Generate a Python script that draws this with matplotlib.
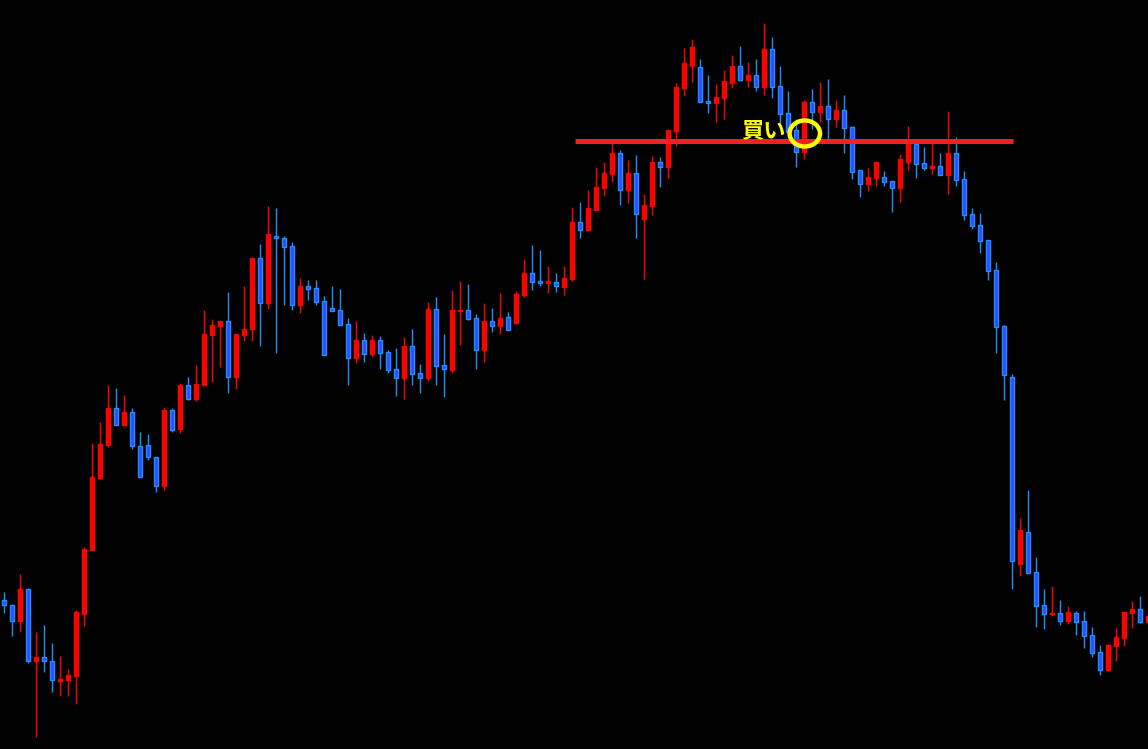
import matplotlib.pyplot as plt
from matplotlib.patches import Ellipse

plt.rcParams['font.family'] = ['Noto Sans CJK JP', 'DejaVu Sans']

# prices, in screen units (bigger number = lower price)
opens = [600, 605, 621, 589, 661, 657, 661, 681, 680, 676,
         614, 550, 478, 445, 408, 425, 412, 446, 445, 457,
         486, 410, 429, 385, 399, 385, 335, 326, 321, 377,
         335, 329, 258, 303, 236, 238, 246, 305, 286, 288,
         301, 308, 310, 324, 358, 340, 354, 340, 352, 369,
         378, 346, 373, 378, 309, 365, 370, 311, 310, 318,
         350, 321, 326, 317, 323, 295, 273, 281, 283, 282,
         287, 279, 222, 230, 210, 188, 174, 153, 190, 173,
         219, 206, 162, 167, 131, 88, 66, 67, 101, 103,
         98, 83, 66, 80, 75, 87, 49, 86, 113, 130,
         152, 102, 112, 106, 119, 110, 127, 170, 184, 178,
         177, 181, 188, 162, 144, 163, 168, 166, 175, 153,
         179, 214, 225, 240, 270, 326, 377, 564, 532, 572,
         605, 614, 613, 621, 613, 621, 635, 652, 670, 646,
         638, 613, 609, 622]
highs = [592, 604, 574, 588, 632, 625, 643, 656, 669, 610,
         547, 443, 422, 385, 388, 395, 408, 432, 434, 457,
         407, 408, 383, 377, 365, 310, 319, 321, 292, 334,
         286, 258, 244, 206, 208, 236, 242, 278, 280, 280,
         296, 286, 289, 318, 321, 333, 335, 336, 350, 348,
         337, 329, 364, 302, 297, 334, 290, 281, 284, 314,
         303, 308, 293, 312, 291, 259, 245, 250, 266, 273,
         266, 207, 202, 190, 167, 162, 143, 150, 160, 155,
         194, 156, 157, 130, 83, 48, 39, 59, 75, 84,
         70, 55, 46, 62, 59, 23, 37, 66, 91, 119,
         100, 89, 82, 79, 100, 95, 126, 170, 168, 162,
         171, 181, 154, 126, 140, 147, 140, 153, 111, 137,
         171, 208, 213, 240, 262, 325, 374, 518, 490, 557,
         589, 586, 600, 606, 611, 611, 627, 645, 644, 628,
         612, 601, 596, 612]
lows = [613, 636, 632, 663, 737, 672, 692, 696, 696, 704,
        626, 550, 478, 447, 425, 426, 449, 477, 460, 492,
        490, 432, 433, 400, 401, 386, 382, 367, 393, 389,
        341, 341, 346, 309, 353, 305, 310, 313, 300, 305,
        355, 311, 325, 385, 363, 362, 357, 369, 373, 396,
        399, 385, 393, 381, 385, 397, 373, 345, 320, 369,
        362, 332, 334, 330, 323, 297, 290, 286, 293, 292,
        295, 281, 238, 230, 210, 196, 182, 205, 203, 238,
        279, 215, 187, 178, 146, 96, 82, 102, 113, 122,
        119, 88, 81, 87, 91, 95, 98, 123, 137, 167,
        159, 129, 122, 140, 127, 153, 179, 197, 191, 186,
        186, 212, 202, 170, 178, 170, 174, 175, 194, 186,
        220, 229, 253, 280, 353, 400, 589, 576, 573, 627,
        629, 616, 625, 624, 635, 648, 657, 675, 670, 661,
        646, 628, 623, 624]
closes = [605, 621, 589, 661, 657, 661, 680, 679, 675, 612,
          549, 477, 444, 408, 425, 412, 446, 477, 457, 486,
          410, 430, 385, 399, 384, 334, 325, 321, 377, 334,
          329, 258, 303, 234, 238, 247, 305, 286, 289, 302,
          355, 311, 325, 358, 340, 354, 340, 353, 370, 378,
          346, 374, 378, 309, 366, 369, 310, 310, 319, 350,
          321, 326, 318, 330, 294, 273, 282, 283, 281, 286,
          278, 222, 230, 208, 187, 173, 153, 190, 173, 214,
          205, 162, 167, 130, 87, 63, 47, 102, 103, 97,
          81, 66, 80, 75, 87, 49, 87, 114, 132, 152,
          102, 112, 106, 119, 110, 128, 172, 184, 177, 162,
          182, 188, 159, 144, 164, 168, 166, 175, 153, 180,
          215, 226, 241, 271, 327, 375, 561, 530, 573, 606,
          614, 613, 621, 612, 622, 636, 653, 670, 645, 637,
          612, 609, 622, 616]

level = 141                       # horizontal line
line_start, line_end = 71.4, 126.1  # in candle index
label = '買い'
mark = (100.1, 133.5)             # circled candle

up_color = '#ff0000'
down_fill = '#3348ff'
down_edge = '#1e90ff'

fig = plt.figure(figsize=(11.48, 7.49), dpi=100, facecolor='black')
ax = fig.add_axes([0, 0, 1, 1])
ax.set_facecolor('black')
ax.axis('off')

x = list(range(len(opens)))
is_up = [c < o for o, c in zip(opens, closes)]
wick_colors = [up_color if u else down_edge for u in is_up]
fills = [up_color if u else down_fill for u in is_up]
edges = [up_color if u else down_edge for u in is_up]
tops = [min(o, c) for o, c in zip(opens, closes)]
heights = [max(abs(o - c), 1) for o, c in zip(opens, closes)]

ax.vlines(x, highs, lows, colors=wick_colors, linewidth=1, zorder=2)
ax.bar(x, heights, bottom=tops, width=0.55, color=fills,
       edgecolor=edges, linewidth=1, zorder=3)

ax.hlines(level, line_start, line_end, colors='#ee2222', linewidth=3.6, zorder=5)
ax.text(97.7, 131.5, label, color='#ffff00', fontsize=16, fontweight='bold',
        ha='right', va='center', zorder=6)
ax.add_patch(Ellipse(mark, 3.8, 26, fill=False, edgecolor='#ffff00',
                     linewidth=3.2, zorder=7))

ax.set_xlim(-0.5, 143)
ax.set_ylim(749, 0)

fig.savefig('out.png', dpi=100, facecolor='black')
